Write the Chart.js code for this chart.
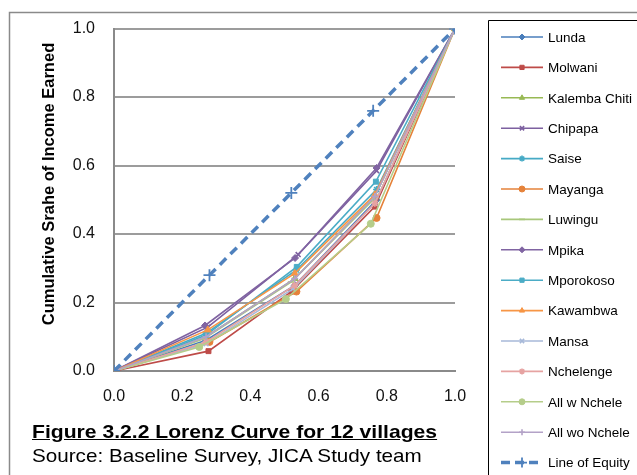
<!DOCTYPE html>
<html>
<head>
<meta charset="utf-8">
<script src="https://cdn.jsdelivr.net/npm/chart.js@4.4.0/dist/chart.umd.min.js"></script>
<style>
  body { margin: 0; background: #fff; }
  #wrap { position: relative; width: 637px; height: 475px; overflow: hidden; }
  .cap { position: absolute; left: 32px; font-family: "Liberation Sans", Arial, sans-serif; font-size: 18.5px; line-height: 1; color: #000; white-space: nowrap; transform-origin: left top; }
  #figTitle { top: 423px; font-weight: bold; text-decoration: underline; transform: scaleX(1.142); }
  #figSource { top: 447px; transform: scaleX(1.116); }
</style>
</head>
<body>
<div id="wrap">
  <canvas id="myChart" width="637" height="475"></canvas>
  <div class="cap" id="figTitle">Figure 3.2.2 Lorenz Curve for 12 villages</div>
  <div class="cap" id="figSource">Source: Baseline Survey, JICA Study team</div>
</div>
<script>
// series names (legend order)
const villages = ['Lunda', 'Molwani', 'Kalemba Chiti', 'Chipapa', 'Saise', 'Mayanga', 'Luwingu',
    'Mpika', 'Mporokoso', 'Kawambwa', 'Mansa', 'Nchelenge', 'All w Nchele', 'All wo Nchele'];

// cumulative share of households (x), one row per village
const householdShare = [
    [0, 0.27, 0.53, 0.77, 1],
    [0, 0.277, 0.52, 0.765, 1],
    [0, 0.27, 0.53, 0.765, 1],
    [0, 0.275, 0.54, 0.77, 1],
    [0, 0.27, 0.535, 0.77, 1],
    [0, 0.28, 0.535, 0.77, 1],
    [0, 0.265, 0.52, 0.76, 1],
    [0, 0.267, 0.531, 0.77, 1],
    [0, 0.27, 0.536, 0.768, 1],
    [0, 0.275, 0.53, 0.765, 1],
    [0, 0.27, 0.525, 0.765, 1],
    [0, 0.27, 0.53, 0.765, 1],
    [0, 0.25, 0.504, 0.753, 1],
    [0, 0.27, 0.53, 0.765, 1]
];

// cumulative share of income earned (y), one row per village
const incomeShare = [
    [0, 0.09, 0.25, 0.50, 1],
    [0, 0.058, 0.232, 0.48, 1],
    [0, 0.10, 0.27, 0.51, 1],
    [0, 0.128, 0.34, 0.585, 1],
    [0, 0.11, 0.295, 0.53, 1],
    [0, 0.085, 0.232, 0.447, 1],
    [0, 0.095, 0.26, 0.50, 1],
    [0, 0.133, 0.33, 0.593, 1],
    [0, 0.105, 0.304, 0.553, 1],
    [0, 0.12, 0.285, 0.515, 1],
    [0, 0.08, 0.24, 0.49, 1],
    [0, 0.085, 0.25, 0.49, 1],
    [0, 0.07, 0.21, 0.43, 1],
    [0, 0.10, 0.27, 0.51, 1]
];

// line of equity
const equityX = [0, 0.28, 0.52, 0.76, 1];
const equityY = [0, 0.28, 0.52, 0.76, 1];

const axisTicks = [0, 0.2, 0.4, 0.6, 0.8, 1.0];
const yTitle = 'Cumulative Srahe of Income Earned';

const colors = ['#4A7EBB', '#BE4B48', '#98B954', '#7D60A0', '#46AAC5', '#E5823A', '#A8C77B',
    '#8064A2', '#4BACC6', '#F79646', '#A7B9D9', '#E6A3A2', '#B5CD8A', '#B3A2C7'];
const markers = ['rectRot', 'rect', 'triangle', 'crossRot', 'star', 'circle', 'line',
    'rectRot', 'rect', 'triangle', 'crossRot', 'star', 'circle', 'cross'];

const FONT = '"Liberation Sans", Arial, sans-serif';

const datasets = villages.map((name, i) => ({
    label: name,
    data: householdShare[i].map((x, j) => ({ x: x, y: incomeShare[i][j] })),
    borderColor: colors[i],
    backgroundColor: colors[i],
    borderWidth: 1.6,
    pointStyle: markers[i],
    pointRadius: markers[i] === 'triangle' ? 4 : 3.5,
    pointBorderWidth: markers[i].startsWith('cross') || markers[i] === 'star' || markers[i] === 'line' ? 1.6 : 1,
    order: villages.length + 1 - i,
}));

datasets.push({
    label: 'Line of Equity',
    data: equityX.map((x, j) => ({ x: x, y: equityY[j] })),
    borderColor: '#4F81BD',
    backgroundColor: '#4F81BD',
    borderWidth: 3.5,
    borderDash: [9, 6],
    pointStyle: 'cross',
    pointRadius: 6,
    pointBorderWidth: 1.8,
    order: 0,
});

// frame round the chart, y title (sits a bit above centre) and the legend box
const framePlugin = {
    id: 'frame',
    beforeDraw(chart) {
        const ctx = chart.ctx;
        ctx.save();
        ctx.strokeStyle = '#8a8a8a';
        ctx.lineWidth = 1.5;
        ctx.beginPath();
        ctx.moveTo(9.5, 475);
        ctx.lineTo(9.5, 12.5);
        ctx.lineTo(637, 12.5);
        ctx.stroke();

        ctx.translate(49, 184);
        ctx.rotate(-Math.PI / 2);
        ctx.fillStyle = '#000';
        ctx.font = 'bold 16.5px ' + FONT;
        ctx.textAlign = 'center';
        ctx.textBaseline = 'middle';
        ctx.fillText(yTitle, 0, 0);
        ctx.restore();
    },
    afterDraw(chart) {
        const ctx = chart.ctx;
        ctx.save();
        ctx.strokeStyle = '#000';
        ctx.lineWidth = 1;
        ctx.beginPath();
        ctx.moveTo(488.5, 476);
        ctx.lineTo(488.5, 20.5);
        ctx.lineTo(640, 20.5);
        ctx.stroke();

        chart.data.datasets.forEach((ds, i) => {
            const y = 37 + i * 30.4;
            ctx.save();
            ctx.strokeStyle = ds.borderColor;
            ctx.lineWidth = ds.borderDash ? 3.5 : 1.6;
            ctx.setLineDash(ds.borderDash ? [9, 5] : []);
            ctx.beginPath();
            ctx.moveTo(501, y);
            ctx.lineTo(543, y);
            ctx.stroke();
            ctx.setLineDash([]);
            ctx.fillStyle = ds.backgroundColor;
            ctx.strokeStyle = ds.borderColor;
            ctx.lineWidth = ds.pointBorderWidth;
            Chart.helpers.drawPoint(ctx, {
                pointStyle: ds.pointStyle,
                radius: ds.borderDash ? 5 : 3,
                rotation: 0,
                borderWidth: ds.pointBorderWidth
            }, 522, y);
            ctx.restore();
            ctx.fillStyle = '#000';
            ctx.font = '13.5px ' + FONT;
            ctx.textBaseline = 'middle';
            ctx.textAlign = 'left';
            ctx.fillText(ds.label, 548, y + 1);
        });
        ctx.restore();
    }
};

const ctx = document.getElementById('myChart').getContext('2d');
const chart = new Chart(ctx, {
    type: 'line',
    data: { datasets: datasets },
    plugins: [framePlugin],
    options: {
        responsive: false,
        animation: false,
        layout: { padding: { top: 26, right: 182, left: 0, bottom: 0 } },
        plugins: {
            legend: { display: false },
            tooltip: { enabled: false },
        },
        scales: {
            x: {
                type: 'linear',
                min: 0,
                max: 1,
                afterBuildTicks: (scale) => { scale.ticks = axisTicks.map(v => ({ value: v })); },
                afterFit: (scale) => { scale.height = 104; },
                grid: { display: false, drawTicks: false },
                border: { display: true, color: '#8a8a8a', width: 2 },
                ticks: {
                    padding: 16,
                    color: '#111',
                    font: { family: FONT, size: 16 },
                    callback: (v) => Number(v).toFixed(1),
                },
            },
            y: {
                type: 'linear',
                min: 0,
                max: 1,
                afterBuildTicks: (scale) => { scale.ticks = axisTicks.map(v => ({ value: v })); },
                afterFit: (scale) => { scale.width = 114; },
                grid: { color: '#9c9c9c', lineWidth: 2, drawTicks: false },
                border: { display: true, color: '#8a8a8a', width: 2 },
                ticks: {
                    padding: 19,
                    color: '#111',
                    font: { family: FONT, size: 16 },
                    callback: (v) => Number(v).toFixed(1),
                },
            },
        },
    },
});
</script>
</body>
</html>
